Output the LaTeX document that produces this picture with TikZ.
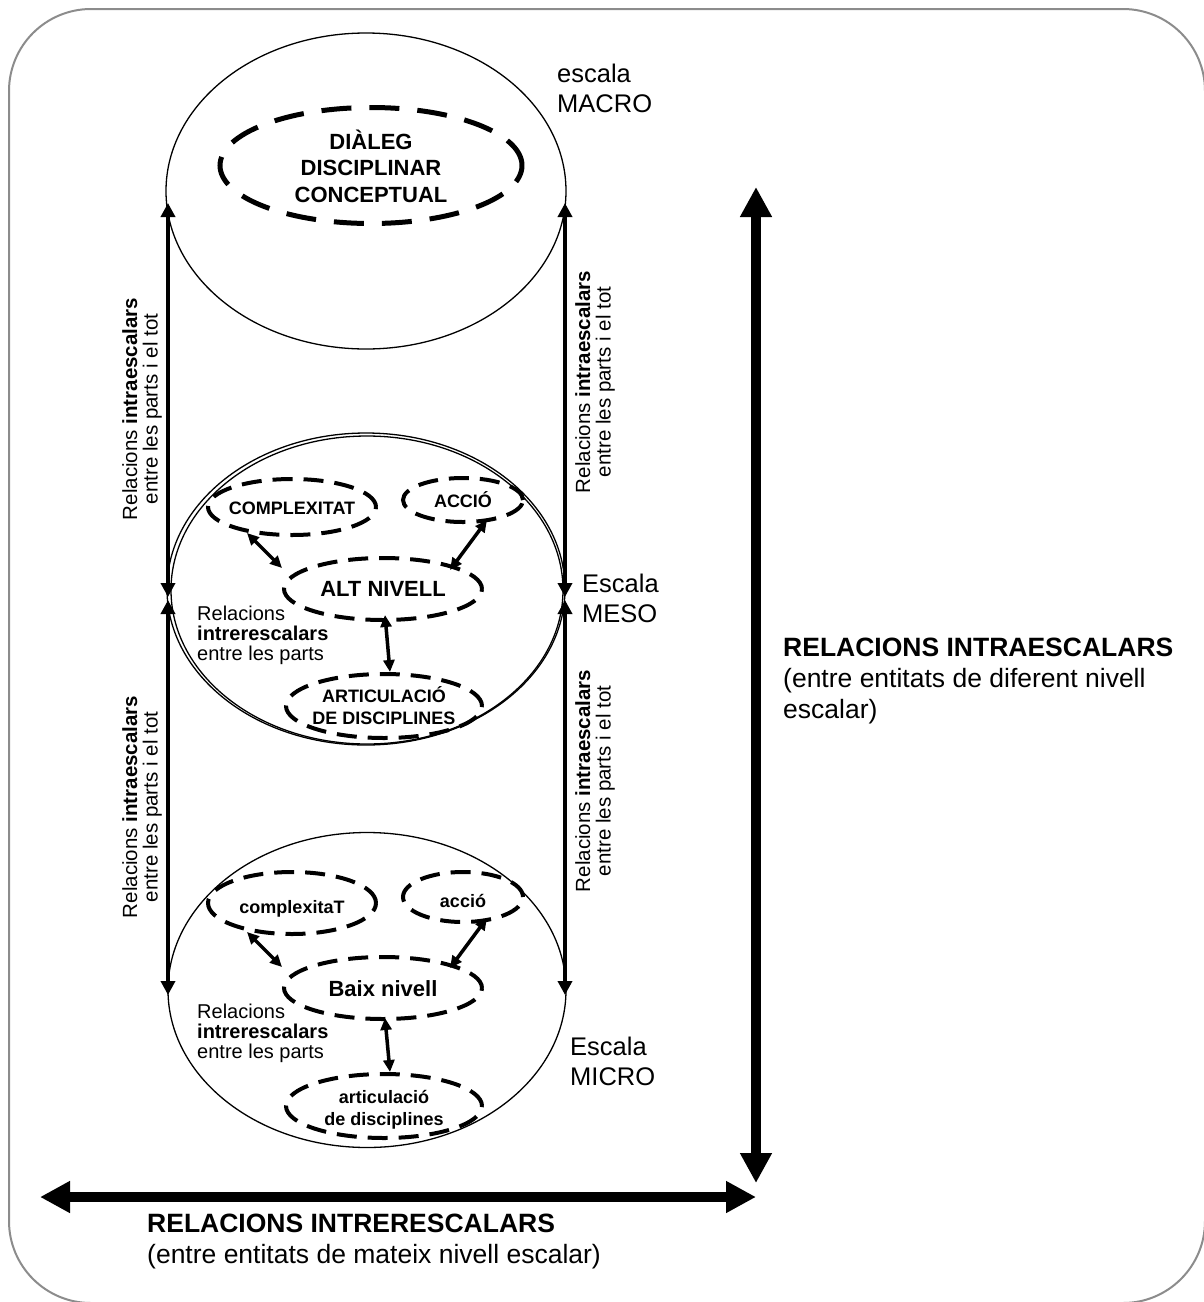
\documentclass[tikz,border=0pt]{standalone}
\usepackage{fontspec}
\setmainfont{Liberation Sans}
\usetikzlibrary{shapes.geometric,arrows.meta}
% centred text block of zero width, optionally lowered inside its node
\newcommand\txtblock[2][3pt]{\raisebox{-#1}[\height][\depth]{\makebox[0pt]{\begin{tabular}{@{}c@{}}#2\end{tabular}}}}
\begin{document}
\begin{tikzpicture}[x=1pt,y=-1pt,
  frame/.style={draw=black!45, line width=2pt, rounded corners=82pt},
  scaleell/.style={ellipse, draw, line width=1.3pt, inner sep=0pt},
  dashbig/.style={ellipse, draw, line width=5pt, dash pattern=on 30pt off 18pt,
    inner sep=0pt, font=\fontsize{22}{26.5}\selectfont\bfseries},
  dashell/.style={ellipse, draw, line width=4pt, dash pattern=on 20pt off 11pt,
    inner sep=0pt, font=\fontsize{18}{22}\selectfont\bfseries},
  dashmid/.style={dashell, font=\fontsize{22}{26}\selectfont\bfseries},
  link/.style={{Triangle[length=12pt,width=11pt]}-{Triangle[length=12pt,width=11pt]}, line width=3.5pt},
  side/.style={{Triangle[length=14pt,width=14pt]}-{Triangle[length=14pt,width=14pt]}, line width=4pt},
  bigarrow/.style={{Triangle[length=30pt,width=30pt]}-{Triangle[length=30pt,width=30pt]}, line width=10pt},
  rottext/.style={rotate=90, align=center, inner sep=0pt, font=\fontsize{20.5}{20.5}\selectfont},
  parts/.style={anchor=north west, align=left, inner sep=0pt, font=\fontsize{20}{20}\selectfont},
  scalelbl/.style={anchor=north west, align=left, inner sep=0pt, font=\fontsize{25.5}{30}\selectfont},
  biglbl/.style={anchor=north west, align=left, inner sep=0pt, font=\fontsize{26.5}{31}\selectfont}
]
\useasboundingbox (0,0) rectangle (1204,1302);

% outer frame
\draw[frame] (9,9) rectangle (1205,1303);

% the three scales
\node[scaleell, minimum width=400pt, minimum height=316pt] (macro) at (366,191) {};
\node[scaleell, minimum width=398pt, minimum height=312pt] (meso) at (366,589) {};
\node[scaleell, minimum width=392pt, minimum height=308pt] (mesob) at (367,590) {};
\node[scaleell, minimum width=398pt, minimum height=315pt] (micro) at (367,990) {};

% macro scale content
\node[dashbig, minimum width=302pt, minimum height=116pt] (dialeg) at (371,165.5)
  {\txtblock[4.5pt]{DIÀLEG\\DISCIPLINAR\\CONCEPTUAL}};

% meso scale content
\node[dashell, minimum width=168pt, minimum height=56pt] (cplxA) at (292,507) {\txtblock{COMPLEXITAT}};
\node[dashell, minimum width=120pt, minimum height=44pt] (accioA) at (463,500) {\txtblock{ACCIÓ}};
\node[dashmid, minimum width=198pt, minimum height=62pt] (altA) at (383,589) {\txtblock[2pt]{ALT NIVELL}};
\node[dashell, minimum width=196pt, minimum height=64pt] (artA) at (384,706) {\txtblock{ARTICULACIÓ\\DE DISCIPLINES}};

% micro scale content
\node[dashell, minimum width=168pt, minimum height=62pt] (cplxB) at (292,903) {\txtblock[6pt]{complexitaT}};
\node[dashell, minimum width=120pt, minimum height=50pt] (accioB) at (463,897) {\txtblock[6pt]{acció}};
\node[dashmid, minimum width=198pt, minimum height=62pt] (baixB) at (383,988) {\txtblock{Baix nivell}};
\node[dashell, minimum width=196pt, minimum height=64pt] (artB) at (384,1106) {\txtblock[4pt]{articulació\\de disciplines}};

% link end points inside the scales
\coordinate (a1s) at (247,533); \coordinate (a1e) at (282,568);
\coordinate (a2s) at (487,520); \coordinate (a2e) at (450,570);
\coordinate (a3s) at (385,615); \coordinate (a3e) at (390,672);
\coordinate (b1s) at (247,932); \coordinate (b1e) at (282,967);
\coordinate (b2s) at (487,918); \coordinate (b2e) at (450,968);
\coordinate (b3s) at (385,1018); \coordinate (b3e) at (390,1072);
\draw[link] (a1s) -- (a1e);
\draw[link] (a2s) -- (a2e);
\draw[link] (a3s) -- (a3e);
\draw[link] (b1s) -- (b1e);
\draw[link] (b2s) -- (b2e);
\draw[link] (b3s) -- (b3e);

% side arrows between scales
\coordinate (lt) at (168,203); \coordinate (lm1) at (168,597);
\coordinate (lm2) at (168,600); \coordinate (lb) at (168,995);
\coordinate (rt) at (565,203); \coordinate (rm1) at (565,597);
\coordinate (rm2) at (565,600); \coordinate (rb) at (565,995);
\draw[side] (lt) -- (lm1);
\draw[side] (lm2) -- (lb);
\draw[side] (rt) -- (rm1);
\draw[side] (rm2) -- (rb);

% big axes
\coordinate (vtop) at (756,187); \coordinate (vbot) at (756,1183);
\coordinate (hl) at (40,1197); \coordinate (hr) at (756,1197);
\draw[bigarrow] (vtop) -- (vbot);
\draw[bigarrow] (hl) -- (hr);

% rotated side labels
\node[rottext] (sideLA) at (142,409) {Relacions \textbf{intraescalars}\\entre les parts i el tot};
\node[rottext] (sideLB) at (142,807) {Relacions \textbf{intraescalars}\\entre les parts i el tot};
\node[rottext] (sideRA) at (595,382) {Relacions \textbf{intraescalars}\\entre les parts i el tot};
\node[rottext] (sideRB) at (595,781) {Relacions \textbf{intraescalars}\\entre les parts i el tot};

% labels between the parts
\node[parts] (relA) at (197,605.6) {Relacions\\\textbf{intrerescalars}\\entre les parts};
\node[parts] (relB) at (197,1003.6) {Relacions\\\textbf{intrerescalars}\\entre les parts};

% scale names
\node[scalelbl] (lmacro) at (557,63.6) {escala\\MACRO};
\node[scalelbl] (lmeso) at (582,573.6) {Escala\\MESO};
\node[scalelbl] (lmicro) at (570,1036.6) {Escala\\MICRO};

% axis captions
\node[biglbl] (intra) at (783,638) {\textbf{RELACIONS INTRAESCALARS}\\(entre entitats de diferent nivell\\escalar)};
\node[biglbl] (intre) at (147,1214) {\textbf{RELACIONS INTRERESCALARS}\\(entre entitats de mateix nivell escalar)};
\end{tikzpicture}
\end{document}
